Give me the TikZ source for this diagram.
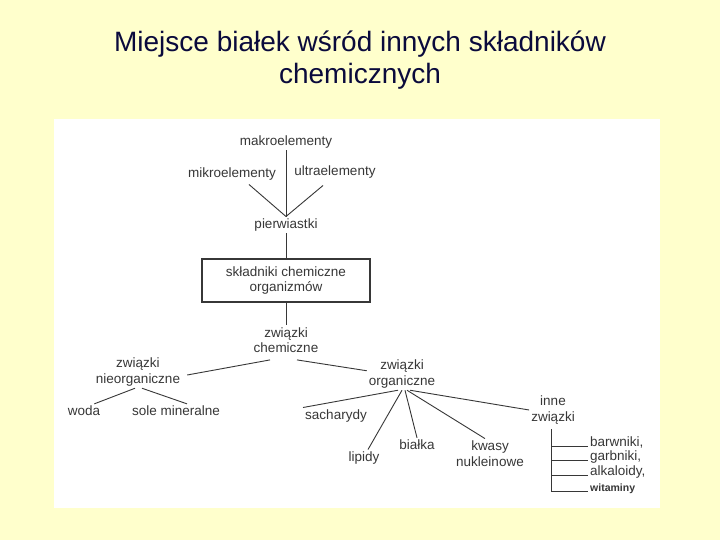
\documentclass[tikz,border=0pt]{standalone}
\usepackage{fontspec}
\setmainfont{Liberation Sans}
\usetikzlibrary{positioning}
\definecolor{slidebg}{RGB}{255,255,204}
\definecolor{titleblue}{RGB}{10,10,60}
\definecolor{ink}{RGB}{55,55,55}
\tikzset{
  lbl/.style={inner sep=2pt, text=ink, font=\fontsize{13.5}{15.5}\selectfont, align=center},
  item/.style={lbl, anchor=base west},
  conn/.style={draw=ink, line width=0.9pt}
}

\begin{document}
\begin{tikzpicture}[x=1pt,y=-1pt]
\fill[slidebg] (0,0) rectangle (720,540);
\useasboundingbox (0,0) rectangle (720,540);
\node[text=titleblue, font=\fontsize{28}{32}\selectfont, align=center] (title) at (360,60)
  {Miejsce białek wśród innych składników\\chemicznych};
\fill[white] (54,119) rectangle (660,508);

% pierwiastki
\node[lbl] (makro) at (286,142) {makroelementy};
\node[lbl] (mikro) at (232,174) {mikroelementy};
\node[lbl] (ultra) at (335,172) {ultraelementy};
\node[lbl] (pierw) at (286,225) {pierwiastki};
\draw[conn] (makro.south) -- (pierw.north);
\draw[conn] ([xshift=17pt,yshift=-2pt]mikro.south) -- (pierw.north);
\draw[conn] ([xshift=-12pt,yshift=-5pt]ultra.south) -- (pierw.north);

% ramka
\node[lbl, draw=ink, line width=1.5pt, minimum width=168pt, minimum height=43pt, inner sep=0pt]
  (sklad) at (286,280.5) {składniki chemiczne\\organizmów};
\draw[conn] (pierw) -- (sklad);

% zwiazki
\node[lbl] (chem) at (286,340) {związki\\chemiczne};
\draw[conn] (sklad) -- (chem);
\node[lbl] (nieorg) at (138,372) {związki\\nieorganiczne};
\node[lbl] (org) at (402,374) {związki\\organiczne};
\draw[conn] ([xshift=-16pt,yshift=-5pt]chem.south) -- ([xshift=5pt,yshift=-3pt]nieorg.east);
\draw[conn] ([xshift=11pt,yshift=-5pt]chem.south) -- ([yshift=-13pt]org.north west);

% nieorganiczne
\node[lbl] (woda) at (84,411) {woda};
\node[lbl] (sole) at (176,411) {sole mineralne};
\draw[conn] ([xshift=-3pt]nieorg.south) -- ([xshift=-8pt]woda.north east);
\draw[conn] ([xshift=4pt]nieorg.south) -- ([xshift=11pt]sole.north);

% organiczne
\node[lbl] (sach) at (336,416) {sacharydy};
\node[lbl] (lipidy) at (364,458) {lipidy};
\node[lbl] (bialka) at (417,445) {białka};
\node[lbl] (kwasy) at (490,453.5) {kwasy\\nukleinowe};
\node[lbl] (inne) at (553,410) {inne\\związki};
\draw[conn] ([xshift=-4pt]org.south) -- (sach.north west);
\draw[conn] (org.south) -- ([xshift=4pt]lipidy.north);
\draw[conn] ([xshift=3pt]org.south) -- (bialka.north);
\draw[conn] ([xshift=5pt]org.south) -- ([xshift=-5pt]kwasy.north);
\draw[conn] ([xshift=8pt]org.south) -- (inne.west);

% inne zwiazki
\node[item] (barw) at (588,446) {barwniki,};
\node[item] (garb) at (588,460) {garbniki,};
\node[item] (alk) at (588,475) {alkaloidy,};
\node[item, font=\bfseries\fontsize{10.5}{12}\selectfont] (wit) at (588,491) {witaminy};
\coordinate (stem) at ([xshift=-2pt,yshift=-3pt]inne.south);
\draw[conn] (stem) -- (stem |- wit.base west);
\foreach \n in {barw,garb,alk,wit}
  \draw[conn] (stem |- \n.base west) -- (\n.base west);
\end{tikzpicture}
\end{document}
